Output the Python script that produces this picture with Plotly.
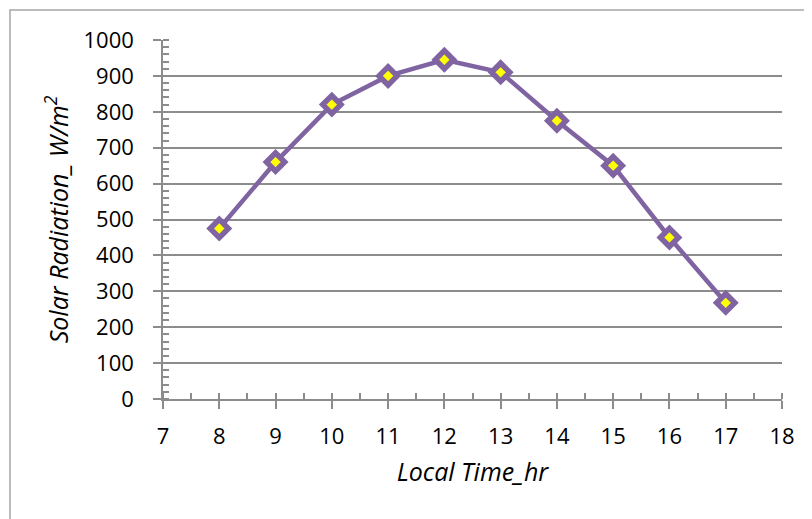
import plotly.graph_objects as go

hours = [8, 9, 10, 11, 12, 13, 14, 15, 16, 17]
radiation = [475, 660, 820, 900, 945, 910, 775, 650, 450, 268]

x_ticks = list(range(7, 19))
y_ticks = list(range(0, 1001, 100))

purple = "#8064A2"
grid = "#8C8C8C"
font_family = "Open Sans, Lato, sans-serif"

fig = go.Figure()
fig.add_trace(go.Scatter(
    x=hours, y=radiation, mode="lines+markers",
    line=dict(color=purple, width=4.5),
    marker=dict(symbol="diamond", size=14, color="#FFFF00",
                line=dict(color=purple, width=5.5)),
    showlegend=False,
))

fig.update_layout(
    width=804, height=511,
    paper_bgcolor="white", plot_bgcolor="white",
    margin=dict(l=155, r=30, t=32, b=120, autoexpand=False),
    font=dict(family=font_family, size=22, color="black"),
    xaxis=dict(
        range=[7, 18], tickvals=x_ticks, ticktext=[str(v) for v in x_ticks],
        showgrid=False, zeroline=False,
        showline=True, linecolor=grid, linewidth=1.5,
        ticks="outside", ticklen=8, tickwidth=1.5, tickcolor=grid,
        minor=dict(dtick=0.5, tick0=7, ticks="inside", ticklen=6, tickwidth=1.5, tickcolor=grid, showgrid=False),
        ticklabelstandoff=9,
        title=dict(text="<i>Local Time_hr</i>", font=dict(size=25), standoff=14),
        fixedrange=True, automargin=False,
    ),
    xaxis2=dict(
        range=[7, 18], overlaying="x", anchor="y", side="bottom",
        tickvals=x_ticks, showticklabels=False, showgrid=False, zeroline=False,
        showline=False, ticks="inside", ticklen=8, tickwidth=1.5, tickcolor=grid,
    ),
    yaxis=dict(
        range=[0, 1000], tickvals=y_ticks, ticktext=[str(v) for v in y_ticks],
        showgrid=True, gridcolor=grid, gridwidth=1.5, zeroline=False,
        showline=True, linecolor=grid, linewidth=1.5,
        ticks="outside", ticklen=8, tickwidth=1.5, tickcolor=grid,
        minor=dict(dtick=20, tick0=0, ticks="inside", ticklen=6, tickwidth=1.5, tickcolor=grid, showgrid=False),
        ticklabelstandoff=15,
        title=dict(text="<i>Solar Radiation_ W/m<sup>2</sup></i>", font=dict(size=25), standoff=8),
        fixedrange=True, automargin=False,
    ),
)

fig.add_shape(type="rect", xref="paper", yref="paper",
              x0=-0.2472, x1=1.2, y0=1.0836, y1=-0.5,
              line=dict(color="#A6A6A6", width=1.5), fillcolor="rgba(0,0,0,0)", layer="below")

fig.write_html("out.html")
